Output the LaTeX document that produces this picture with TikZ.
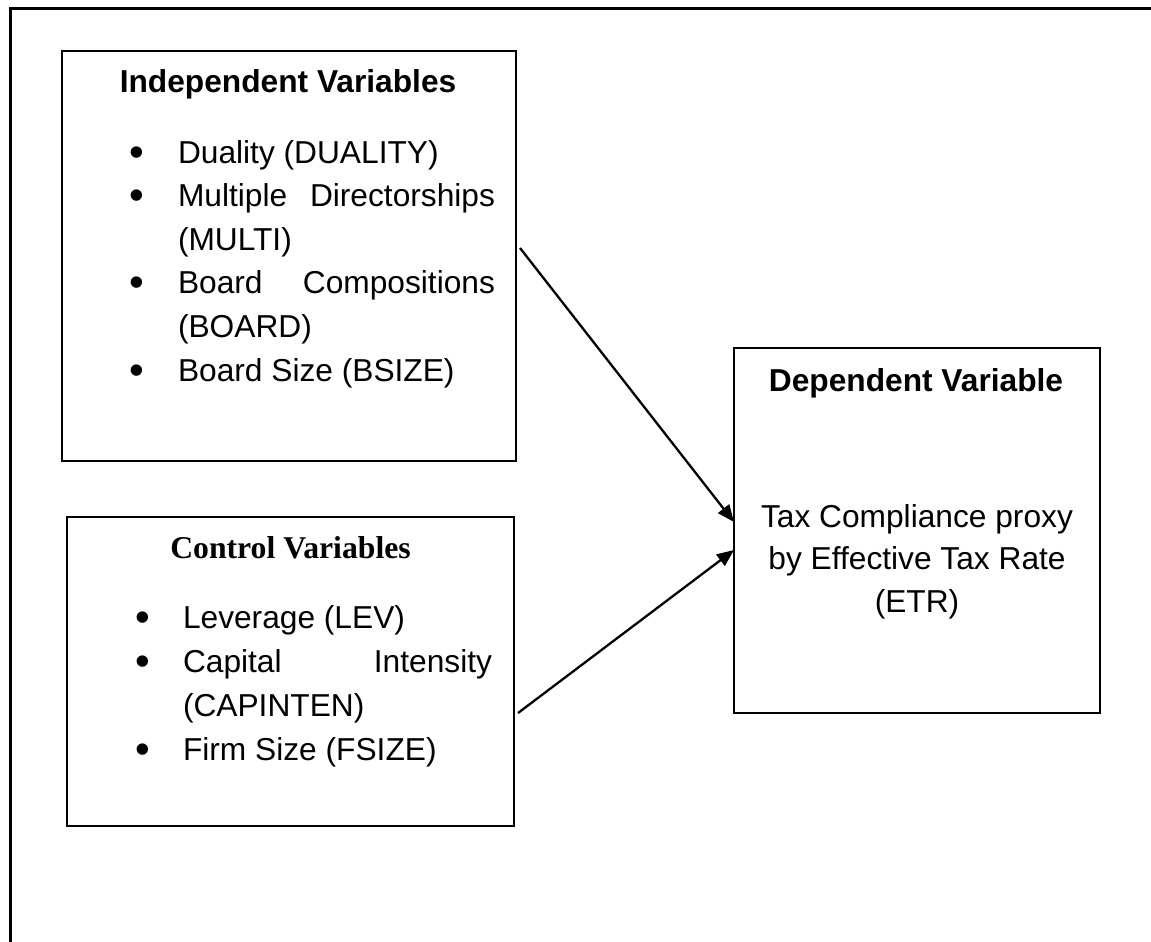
\documentclass[tikz,border=0pt]{standalone}
\usepackage{fontspec}
\setmainfont{Liberation Sans}
\newfontfamily\serifbold{Liberation Serif}
\usetikzlibrary{arrows.meta}
\newcommand{\bigbul}{\raisebox{-3pt}{\fontsize{42}{42}\selectfont •}}
\newcommand{\bulA}{\llap{\makebox[82pt][c]{\bigbul}}}
\newcommand{\bulB}{\llap{\makebox[80pt][c]{\bigbul}}}
\tikzset{
  box/.style={draw, line width=2.8pt, rectangle, inner sep=0pt, outer sep=0pt},
  txt/.style={inner sep=0pt, outer sep=0pt, font=\fontsize{31.7}{43.6}\selectfont},
  lw/.style={txt, anchor=base west},
  ctr/.style={txt, anchor=base},
  arr/.style={line width=2.3pt, -{Triangle[length=17pt,width=14pt]}},
  frame/.style={line width=3pt, line join=miter}
}
\begin{document}
\begin{tikzpicture}[x=1pt,y=-1pt]
\useasboundingbox (0,0) rectangle (1151,942);
% outer frame (only top and left edges visible)
\draw[frame] (10,942) -- (10,8.5) -- (1151,8.5);
% boxes
\node[box, minimum width=454pt, minimum height=410pt] (ind) at (289,256) {};
\node[box, minimum width=447pt, minimum height=309pt] (ctl) at (290.5,671.5) {};
\node[box, minimum width=366pt, minimum height=365pt] (dep) at (917,530.5) {};
% independent variables
\node[ctr, font=\fontsize{31.7}{43.6}\selectfont\bfseries] (indt) at (288,92.5) {Independent Variables};
\node[lw] (i1) at (178,163) {\bulA Duality (DUALITY)};
\node[lw] (i2) at (178,206.6) {\bulA\makebox[317pt][s]{Multiple Directorships}};
\node[lw] (i3) at (178,250.2) {(MULTI)};
\node[lw] (i4) at (178,293.8) {\bulA\makebox[317pt][s]{Board Compositions}};
\node[lw] (i5) at (178,337.4) {(BOARD)};
\node[lw] (i6) at (178,381) {\bulA Board Size (BSIZE)};
% control variables
\node[ctr, font=\fontsize{31.7}{43.6}\serifbold\bfseries] (ctlt) at (290.5,558) {Control Variables};
\node[lw] (c1) at (183,628.5) {\bulB Leverage (LEV)};
\node[lw] (c2) at (183,672.5) {\bulB\makebox[309pt][s]{Capital Intensity}};
\node[lw] (c3) at (183,716.5) {(CAPINTEN)};
\node[lw] (c4) at (183,760.5) {\bulB Firm Size (FSIZE)};
% dependent variable
\node[ctr, font=\fontsize{31.7}{43.6}\selectfont\bfseries] (dept) at (916,391) {Dependent Variable};
\node[ctr] (d1) at (917,527) {Tax Compliance proxy};
\node[ctr] (d2) at (917,569.5) {by Effective Tax Rate};
\node[ctr] (d3) at (917,612) {(ETR)};
% connectors
\coordinate (s1) at (520,248);
\coordinate (e1) at (dep.west |- 0,522);
\coordinate (s2) at (518,713);
\coordinate (e2) at (dep.west |- 0,550);
\draw[arr] (s1) -- (e1);
\draw[arr] (s2) -- (e2);
\end{tikzpicture}
\end{document}
